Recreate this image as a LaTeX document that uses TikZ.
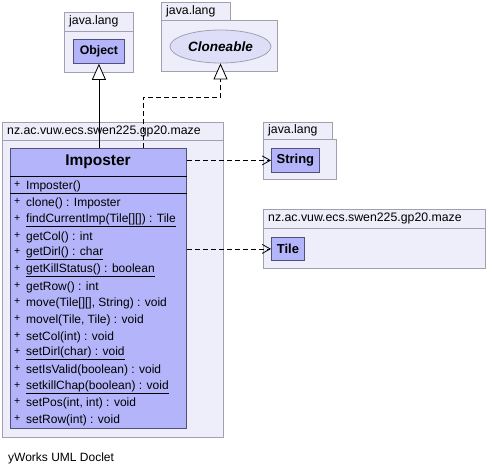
\documentclass[tikz,border=0pt]{standalone}
\usepackage{fontspec}
\setmainfont{Liberation Sans}
\usetikzlibrary{arrows.meta,shapes.geometric}
\definecolor{pkgfill}{RGB}{238,238,250}
\definecolor{pkgline}{RGB}{160,160,176}
\definecolor{clsfill}{RGB}{180,180,250}
\definecolor{clsline}{RGB}{80,80,120}
\definecolor{ifcfill}{RGB}{222,222,248}
\tikzset{
  pkg/.style={draw=pkgline, fill=pkgfill, line width=0.8pt, anchor=north west, inner sep=0pt},
  pkglabel/.style={font=\fontsize{12.3}{13}\selectfont, anchor=west, inner sep=0pt},
  cls/.style={draw=clsline, fill=clsfill, line width=0.8pt, anchor=north west, inner sep=0pt},
  clsname/.style={font=\fontsize{13}{14}\selectfont\bfseries, inner sep=0pt},
  member/.style={font=\fontsize{12}{13}\selectfont, anchor=west, inner sep=0pt},
  plus/.style={font=\fontsize{10.5}{11}\selectfont, anchor=west, inner sep=0pt},
  inh/.style={draw=black, line width=0.8pt, -{Triangle[length=16pt,width=14pt,fill=white]}},
  dep/.style={draw=black, line width=0.8pt, dash pattern=on 5pt off 3pt, -{Straight Barb[length=8pt,width=9pt]}},
}
\newcommand{\ul}[1]{\underline{#1}}
\begin{document}
\begin{tikzpicture}[x=1pt,y=-1pt]
\useasboundingbox (0,0) rectangle (487,474);

% java.lang (Object)
\node[pkg, minimum width=69pt, minimum height=19pt] (objtab) at (64,12) {};
\node[pkg, minimum width=69pt, minimum height=41pt] (objpkg) at (64,31) {};
\node[pkglabel] (objlbl) at (69,21.5) {java.lang};
\node[cls, minimum width=51pt, minimum height=24pt] (obj) at (73,39) {};
\node[clsname, font=\fontsize{12.3}{13}\selectfont\bfseries] (objname) at (obj.center) {Object};

% java.lang (Cloneable)
\node[pkg, minimum width=69pt, minimum height=18pt] (clntab) at (161,2) {};
\node[pkg, minimum width=116pt, minimum height=51pt] (clnpkg) at (161,20) {};
\node[pkglabel] (clnlbl) at (166,11) {java.lang};
\node[ellipse, draw=pkgline, fill=ifcfill, line width=0.8pt, minimum width=101pt, minimum height=33pt, inner sep=0pt, font=\fontsize{13.5}{14}\selectfont\bfseries\itshape] (cln) at (220.5,46.5) {Cloneable};

% java.lang (String)
\node[pkg, minimum width=69pt, minimum height=17pt] (strtab) at (263,122) {};
\node[pkg, minimum width=73pt, minimum height=40pt] (strpkg) at (263,139) {};
\node[pkglabel] (strlbl) at (268,130.5) {java.lang};
\node[cls, minimum width=48pt, minimum height=24pt] (str) at (271,148) {};
\node[clsname] (strname) at (str.center) {String};

% nz.ac.vuw.ecs.swen225.gp20.maze (Tile)
\node[pkg, minimum width=222pt, minimum height=19pt] (tiletab) at (263,209) {};
\node[pkg, minimum width=222pt, minimum height=40pt] (tilepkg) at (263,228) {};
\node[pkglabel] (tilelbl) at (268,218.5) {nz.ac.vuw.ecs.swen225.gp20.maze};
\node[cls, minimum width=33pt, minimum height=23pt] (tile) at (271,237) {};
\node[clsname] (tilename) at (tile.center) {Tile};

% nz.ac.vuw.ecs.swen225.gp20.maze (Imposter)
\node[pkg, minimum width=221pt, minimum height=18pt] (imptab) at (2,122) {};
\node[pkg, minimum width=221pt, minimum height=297pt] (imppkg) at (2,140) {};
\node[pkglabel] (implbl) at (7,131) {nz.ac.vuw.ecs.swen225.gp20.maze};
\node[cls, minimum width=176pt, minimum height=280pt] (imp) at (10,148) {};
\node[clsname, font=\fontsize{15.5}{16}\selectfont\bfseries] (impname) at (98,162) {Imposter};
\coordinate (sepa) at (10,176);
\coordinate (sepb) at (10,193);
\draw[black, line width=0.8pt] (sepa) -- (sepa -| imp.east);
\draw[black, line width=0.8pt] (sepb) -- (sepb -| imp.east);

\foreach \y/\t [count=\i] in {
  186/{Imposter()},
  203/{clone() : Imposter},
  220/{\ul{findCurrentImp(Tile[][]) : Tile}},
  237/{getCol() : int},
  253/{\ul{getDirl() : char}},
  270/{\ul{getKillStatus() : boolean}},
  287/{getRow() : int},
  303/{move(Tile[][], String) : void},
  320/{movel(Tile, Tile) : void},
  337/{setCol(int) : void},
  353/{\ul{setDirl(char) : void}},
  370/{setIsValid(boolean) : void},
  387/{\ul{setkillChap(boolean) : void}},
  403/{setPos(int, int) : void},
  420/{setRow(int) : void}} {
  \node[plus] (p\i) at (14,\y-1.5) {+};
  \node[member] (m\i) at (26,\y) {\t};
}

% connectors
\draw[inh] (imp.north -| obj.south) -- (obj.south);
\coordinate (bend) at (220.5,97);
\draw[inh, dash pattern=on 5pt off 3pt] (imp.north -| 143,0) |- (bend) -- (cln.south);
\draw[dep] (imp.east |- str.west) -- (str.west);
\draw[dep] (imp.east |- tile.west) -- (tile.west);

\node[font=\fontsize{12}{13}\selectfont, anchor=west, inner sep=0pt] (footer) at (8,458) {yWorks UML Doclet};
\end{tikzpicture}
\end{document}
